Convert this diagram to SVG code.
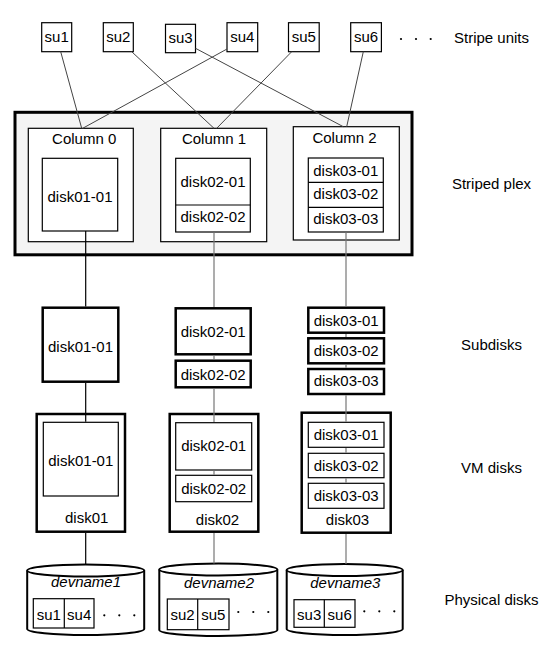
<svg xmlns="http://www.w3.org/2000/svg" width="558" height="656" viewBox="0 0 558 656">
<style>
text{font-family:"Liberation Sans",Arial,Helvetica,sans-serif;font-size:15px;fill:#000}
.m{text-anchor:middle}
.it{font-style:italic}
.thin{fill:#fff;stroke:#000;stroke-width:1.2}
.thick{fill:#fff;stroke:#000;stroke-width:2.5}
.plex{fill:#f4f4f4;stroke:#000;stroke-width:3}
.cyl{fill:#fff;stroke:#000;stroke-width:2}
.dot{fill:#000}
.su{stroke:#444;stroke-width:1;fill:none}
.vb{stroke:#000;stroke-width:1.2;fill:none}
.vg{stroke:#777;stroke-width:1.2;fill:none}
</style>
<rect width="558" height="656" fill="#fff"/>

<g id="labels">
<text class="m" x="491.5" y="42.7">Stripe units</text>
<text class="m" x="491.5" y="188.5">Striped plex</text>
<text class="m" x="491.5" y="350">Subdisks</text>
<text class="m" x="491.5" y="472.7">VM disks</text>
<text class="m" x="491.5" y="605">Physical disks</text>
</g>

<g id="stripe-units">
<g id="su1"><rect class="thin" x="41.7" y="22.7" width="30" height="29"/><text class="m" x="56.7" y="41.7">su1</text></g>
<g id="su2"><rect class="thin" x="103.3" y="22.7" width="30" height="29"/><text class="m" x="118.3" y="41.7">su2</text></g>
<g id="su3"><rect class="thin" x="165.5" y="24.3" width="30" height="28.4"/><text class="m" x="180.5" y="42.5">su3</text></g>
<g id="su4"><rect class="thin" x="227" y="22.7" width="30.7" height="29"/><text class="m" x="242.3" y="41.7">su4</text></g>
<g id="su5"><rect class="thin" x="288.5" y="22.7" width="30.7" height="29"/><text class="m" x="303.8" y="41.7">su5</text></g>
<g id="su6"><rect class="thin" x="350.7" y="22.7" width="30.7" height="29"/><text class="m" x="366" y="41.7">su6</text></g>
<g id="su-more"><circle class="dot" cx="401" cy="39" r="1.1"/><circle class="dot" cx="416" cy="39" r="1.1"/><circle class="dot" cx="430.7" cy="39" r="1.1"/></g>
</g>

<g id="striped-plex">
<rect class="plex" x="15" y="112.3" width="397" height="142.5"/>
<g id="column0">
<rect class="thin" x="28.3" y="128.3" width="105" height="113.4"/>
<text class="m" x="84.2" y="144.3">Column 0</text>
<rect class="thin" x="42.3" y="158.3" width="75.4" height="72.7"/>
<text class="m" x="80" y="201.7">disk01-01</text>
</g>
<g id="column1">
<rect class="thin" x="160.7" y="128.3" width="106" height="113.4"/>
<text class="m" x="214" y="144.3">Column 1</text>
<rect class="thin" x="175.7" y="158.3" width="74.6" height="73.7"/>
<line class="vb" x1="175.7" y1="205" x2="250.3" y2="205"/>
<text class="m" x="213" y="186.7">disk02-01</text>
<text class="m" x="213" y="222.3">disk02-02</text>
</g>
<g id="column2">
<rect class="thin" x="293.3" y="126.7" width="106" height="113.3"/>
<text class="m" x="344.5" y="143.3">Column 2</text>
<rect class="thin" x="308.3" y="158" width="75" height="74"/>
<line class="vb" x1="308.3" y1="182.3" x2="383.3" y2="182.3"/>
<line class="vb" x1="308.3" y1="207.3" x2="383.3" y2="207.3"/>
<text class="m" x="345.8" y="175.7">disk03-01</text>
<text class="m" x="345.8" y="199.3">disk03-02</text>
<text class="m" x="345.8" y="224.3">disk03-03</text>
</g>
</g>

<g id="subdisks">
<g id="sd-disk01-01"><rect class="thick" x="42.7" y="307.7" width="75.6" height="74"/><text class="m" x="80.5" y="351.7">disk01-01</text></g>
<g id="sd-disk02-01"><rect class="thick" x="175.7" y="308.3" width="75" height="46"/><text class="m" x="213.2" y="336.7">disk02-01</text></g>
<g id="sd-disk02-02"><rect class="thick" x="175.7" y="360.7" width="75" height="26.6"/><text class="m" x="213.2" y="380">disk02-02</text></g>
<g id="sd-disk03-01"><rect class="thick" x="308.3" y="307.7" width="75.7" height="25"/><text class="m" x="346.2" y="326">disk03-01</text></g>
<g id="sd-disk03-02"><rect class="thick" x="308.3" y="338.3" width="75.7" height="25"/><text class="m" x="346.2" y="355.7">disk03-02</text></g>
<g id="sd-disk03-03"><rect class="thick" x="308.3" y="369" width="75.7" height="25"/><text class="m" x="346.2" y="386">disk03-03</text></g>
</g>

<g id="vm-disks">
<g id="vm-disk01">
<rect class="thick" x="36.7" y="414" width="88.3" height="117.7"/>
<rect class="thin" x="43.3" y="422.3" width="75" height="73.7"/>
<text class="m" x="80.8" y="466">disk01-01</text>
<text class="m" x="86.7" y="522.7">disk01</text>
</g>
<g id="vm-disk02">
<rect class="thick" x="169.7" y="414" width="88.6" height="117.7"/>
<rect class="thin" x="175.7" y="422.7" width="76" height="47.3"/>
<text class="m" x="213.7" y="451">disk02-01</text>
<rect class="thin" x="175.7" y="475.3" width="76" height="26.4"/>
<text class="m" x="213.7" y="494">disk02-02</text>
<text class="m" x="217.5" y="525">disk02</text>
</g>
<g id="vm-disk03">
<rect class="thick" x="301.7" y="412.7" width="89" height="120"/>
<rect class="thin" x="308.3" y="422.3" width="75.7" height="25"/>
<text class="m" x="346.2" y="440">disk03-01</text>
<rect class="thin" x="308.3" y="453.3" width="75.7" height="24.4"/>
<text class="m" x="346.2" y="471">disk03-02</text>
<rect class="thin" x="308.3" y="483.3" width="75.7" height="25"/>
<text class="m" x="346.2" y="501">disk03-03</text>
<text class="m" x="347.5" y="525">disk03</text>
</g>
</g>

<g id="physical-disks">
<g id="devname1">
<path class="cyl" d="M27.2,570.5 L27.2,629 A58.5,6 0 0 0 144.2,629 L144.2,570.5"/>
<ellipse class="cyl" cx="85.7" cy="570.5" rx="58.5" ry="6"/>
<text class="m it" x="86" y="587.3">devname1</text>
<rect class="thin" x="33.3" y="598.7" width="60.7" height="29.3"/>
<line class="vb" x1="64.3" y1="598.7" x2="64.3" y2="628"/>
<text class="m" x="48.8" y="619.7">su1</text>
<text class="m" x="79.2" y="619.7">su4</text>
<circle class="dot" cx="104.3" cy="615.3" r="1.1"/><circle class="dot" cx="119.3" cy="615.3" r="1.1"/><circle class="dot" cx="134.3" cy="615.3" r="1.1"/>
</g>
<g id="devname2">
<path class="cyl" d="M159.3,569.5 L159.3,630 A59,6 0 0 0 277.3,630 L277.3,569.5"/>
<ellipse class="cyl" cx="218.3" cy="569.5" rx="59" ry="6"/>
<text class="m it" x="219" y="588">devname2</text>
<rect class="thin" x="167.3" y="599" width="61.7" height="30.7"/>
<line class="vb" x1="197.7" y1="599" x2="197.7" y2="629.7"/>
<text class="m" x="182.5" y="620">su2</text>
<text class="m" x="213.3" y="620">su5</text>
<circle class="dot" cx="238.3" cy="612" r="1.1"/><circle class="dot" cx="253.3" cy="612" r="1.1"/><circle class="dot" cx="268.3" cy="612" r="1.1"/>
</g>
<g id="devname3">
<path class="cyl" d="M286.7,570 L286.7,629 A58,6 0 0 0 402.7,629 L402.7,570"/>
<ellipse class="cyl" cx="344.7" cy="570" rx="58" ry="6"/>
<text class="m it" x="345.3" y="588">devname3</text>
<rect class="thin" x="294" y="599.7" width="61" height="27.6"/>
<line class="vb" x1="324.3" y1="599.7" x2="324.3" y2="627.3"/>
<text class="m" x="309.2" y="620">su3</text>
<text class="m" x="339.7" y="620">su6</text>
<circle class="dot" cx="364.3" cy="611.3" r="1.1"/><circle class="dot" cx="379.3" cy="611.3" r="1.1"/><circle class="dot" cx="394.3" cy="611.3" r="1.1"/>
</g>
</g>

<g id="connectors">
<line class="su" x1="60.7" y1="51.7" x2="81.7" y2="128.3"/>
<line class="su" x1="131.7" y1="51.7" x2="214" y2="128.3"/>
<line class="su" x1="195.5" y1="48.3" x2="343.3" y2="126.7"/>
<line class="su" x1="227" y1="49" x2="82.7" y2="128.3"/>
<line class="su" x1="291.7" y1="51.7" x2="216.7" y2="128.3"/>
<line class="su" x1="363.3" y1="51.7" x2="346.7" y2="126.7"/>
<path class="vb" d="M85.7,231 V306.5 M85.7,383 V421.7 M85.7,533 V564.5"/>
<path class="vg" d="M214,232.6 V307 M214,355.6 V359.4 M214,388.6 V422 M214,470.6 V474.7 M214,533 V563.5"/>
<path class="vg" d="M346,232.6 V306.5 M346,334 V337 M346,364.6 V367.7 M346,395.3 V421.7 M346,447.9 V452.7 M346,478.3 V482.7 M346,534 V564"/>
</g>
</svg>
